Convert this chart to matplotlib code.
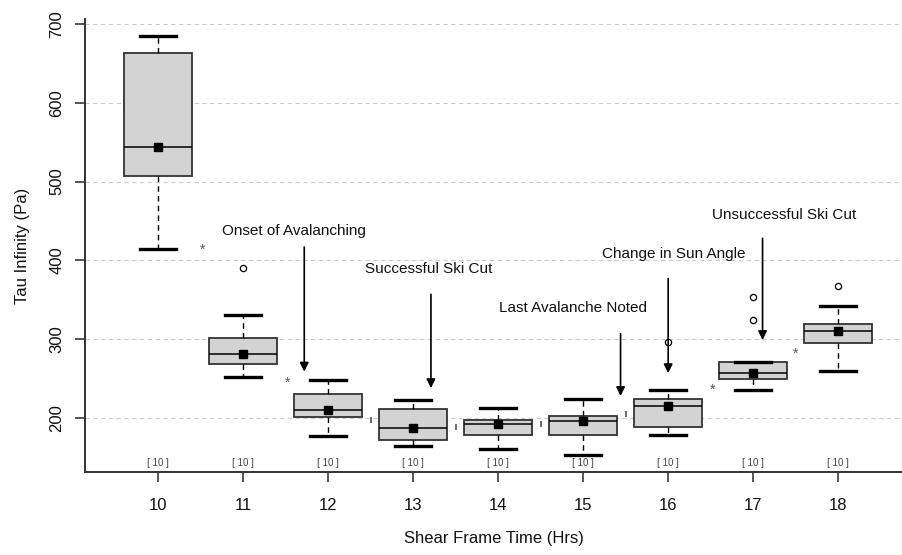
import matplotlib
matplotlib.use('Agg')
import matplotlib.pyplot as plt
import matplotlib.transforms as mtransforms

# Shear frame tau-infinity per hour
hours = [10, 11, 12, 13, 14, 15, 16, 17, 18]
q1 = [507, 268, 201, 172, 178, 178, 189, 249, 295]
medians = [544, 281, 210, 187, 192, 196, 215, 257, 310]
q3 = [663, 302, 230, 212, 198, 202, 224, 271, 319]
whisk_lo = [414, 252, 177, 164, 161, 153, 178, 236, 260]
whisk_hi = [685, 331, 248, 223, 213, 224, 236, 271, 342]
means = [544, 281, 210, 187, 192, 196, 215, 257, 310]
outliers = [[], [390], [], [], [], [], [296], [354, 325], [367]]
counts = [10, 10, 10, 10, 10, 10, 10, 10, 10]

# marks drawn between neighbouring boxes
star_x = [10.52, 11.52, 16.52, 17.5]
star_y = [413, 245, 236, 282]
tick_x = [12.5, 13.5, 14.5, 15.5]
tick_y = [198, 189, 192, 205]

# event notes
events = ["Onset of Avalanching", "Successful Ski Cut", "Last Avalanche Noted",
          "Change in Sun Angle", "Unsuccessful Ski Cut"]
event_tx = [11.6, 13.18, 14.88, 16.06, 17.36]
event_ty = [437, 389, 340, 408, 458]
arrow_x = [11.72, 13.21, 15.44, 16.0, 17.11]
arrow_top = [417, 357, 307, 377, 428]
arrow_tip = [259, 238, 228, 257, 299]

plt.rcParams['font.family'] = ['Liberation Sans', 'DejaVu Sans']

fig = plt.figure(figsize=(9.02, 5.55), dpi=100)
ax = fig.add_axes([0.0942, 0.1495, 0.9058, 0.8163])

stats = []
for i in range(len(hours)):
    stats.append({'med': medians[i], 'q1': q1[i], 'q3': q3[i],
                  'whislo': whisk_lo[i], 'whishi': whisk_hi[i],
                  'mean': means[i], 'fliers': outliers[i], 'label': str(hours[i])})

ax.bxp(stats, positions=hours, widths=0.8, showmeans=True, patch_artist=True,
       boxprops=dict(facecolor='#d3d3d3', edgecolor='#333333', linewidth=1.3),
       medianprops=dict(color='black', linewidth=1.1),
       whiskerprops=dict(color='black', linewidth=1.0, linestyle=(0, (4, 3))),
       capprops=dict(color='black', linewidth=2.4),
       capwidths=0.42,
       meanprops=dict(marker='s', markerfacecolor='black', markeredgecolor='black', markersize=6),
       flierprops=dict(marker='o', markerfacecolor='none', markeredgecolor='black',
                       markersize=4.5, markeredgewidth=0.9))

ax.set_xlim(9.141, 18.75)
ax.set_ylim(131.5, 706.3)
ax.set_yticks([200, 300, 400, 500, 600, 700])
ax.set_xticks(hours)
ax.set_xticklabels([str(h) for h in hours])

ax.yaxis.grid(True, color='#cccccc', linestyle=(0, (4, 3)), linewidth=0.8)
ax.set_axisbelow(True)

for s in ['top', 'right']:
    ax.spines[s].set_visible(False)
for s in ['left', 'bottom']:
    ax.spines[s].set_color('#333333')
    ax.spines[s].set_linewidth(1.4)

ax.tick_params(axis='both', length=7, width=1.4, color='#555555', labelsize=12,
               labelcolor='#111111')
ax.tick_params(axis='x', pad=12)
ax.tick_params(axis='y', pad=8, labelrotation=90)
for lab in ax.get_yticklabels():
    lab.set_va('center')

ax.set_xlabel('Shear Frame Time (Hrs)', fontsize=12, labelpad=13, color='#111111')
ax.set_ylabel('Tau Infinity (Pa)', fontsize=12, labelpad=14, color='#111111')

# sample counts along the bottom
trans = mtransforms.blended_transform_factory(ax.transData, ax.transAxes)
for h, n in zip(hours, counts):
    ax.text(h, 0.019, '[ %d ]' % n, transform=trans, ha='center', va='center',
            fontsize=7, color='#444444')

for x, y in zip(star_x, star_y):
    ax.text(x, y, '*', ha='center', va='center', fontsize=10, color='#555555')
ax.plot(tick_x, tick_y, linestyle='none', marker='|', markersize=4.5,
        color='#555555', markeredgewidth=1.2)

for lab, tx, ty, ax_x, top, tip in zip(events, event_tx, event_ty, arrow_x, arrow_top, arrow_tip):
    ax.text(tx, ty, lab, ha='center', va='center', fontsize=11, color='#111111')
    ax.annotate('', xy=(ax_x, tip), xytext=(ax_x, top),
                arrowprops=dict(arrowstyle='-|>', color='black', lw=1.2,
                                mutation_scale=13, shrinkA=0, shrinkB=0))

fig.savefig('out.png', dpi=100)
